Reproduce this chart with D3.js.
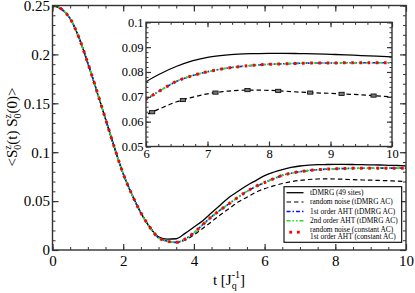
<!DOCTYPE html>
<html>
<head>
<meta charset="utf-8">
<script src="https://cdn.jsdelivr.net/npm/d3@7"></script>
<style>
  body { margin: 0; background: #fff; }
  svg, svg text { font-family: "Liberation Serif", "Times New Roman", serif; }
</style>
</head>
<body>
<script>
// time grid (units of 1/J_q)
const tVals = [0, 0.25, 0.5, 0.75, 1, 1.25, 1.5, 1.75, 2, 2.25, 2.5, 2.75,
  3, 3.25, 3.5, 3.75, 4, 4.25, 4.5, 4.75, 5, 5.25, 5.5, 5.75,
  6, 6.25, 6.5, 6.75, 7, 7.25, 7.5, 7.75, 8, 8.25, 8.5, 8.75,
  9, 9.25, 9.5, 9.75, 10];

// short-time part, all curves coincide
const shortTime = [0.25, 0.2465, 0.2365, 0.217, 0.191, 0.163, 0.134, 0.105, 0.078, 0.0565, 0.038, 0.0235];

// tDMRG (49 sites)
const tdmrgVals = shortTime.concat([0.0135, 0.0112, 0.0115, 0.017, 0.0235, 0.030, 0.038, 0.046, 0.054, 0.060, 0.066, 0.071,
  0.076, 0.0795, 0.0823, 0.0845, 0.0859, 0.0867, 0.0872, 0.0874, 0.0875, 0.0875, 0.0874, 0.0873,
  0.0871, 0.0869, 0.0866, 0.0864, 0.0861]);

// random noise (tDMRG AC)
const noiseVals = shortTime.concat([0.0125, 0.009, 0.0078, 0.010, 0.0155, 0.022, 0.029, 0.036, 0.0425, 0.049, 0.054, 0.059,
  0.0627, 0.0655, 0.068, 0.0698, 0.0712, 0.0721, 0.0726, 0.0727, 0.0726, 0.0723, 0.0719, 0.0716,
  0.0714, 0.0711, 0.0708, 0.0704, 0.070]);

// 1st / 2nd order AHT and constant-AC curves (on top of each other)
const ahtVals = shortTime.concat([0.0125, 0.009, 0.0078, 0.0112, 0.0175, 0.026, 0.034, 0.041, 0.0475, 0.054, 0.060, 0.065,
  0.069, 0.0728, 0.0763, 0.0785, 0.0801, 0.0813, 0.0821, 0.0827, 0.0831, 0.0833, 0.0835, 0.0836,
  0.0836, 0.0837, 0.0837, 0.0837, 0.0837]);

// error bar markers on random noise curve (inset)
const errT = [6.1, 6.6, 7.13, 7.65, 8.15, 8.67, 9.18, 9.7];
const errV = [0.0638, 0.0687, 0.0717, 0.0727, 0.0724, 0.0717, 0.0712, 0.0705];

const mainXTicks = [0, 2, 4, 6, 8, 10];
const mainYTicks = [0, 0.05, 0.1, 0.15, 0.2, 0.25];
const insetXTicks = [6, 7, 8, 9, 10];
const insetYTicks = [0.05, 0.06, 0.07, 0.08, 0.09, 0.1];

const legendLabels = ["tDMRG (49 sites)", "random noise (tDMRG AC)", "1st order AHT (tDMRG AC)",
  "2nd order AHT (tDMRG AC)", ["random noise  (constant AC)", "1st order AHT (constant AC)"]];

const FONT = "'Liberation Serif', 'Times New Roman', serif";
const width = 415, height = 293;
const svg = d3.select("body").append("svg").attr("width", width).attr("height", height);

const styles = [
  { color: "#000", width: 1.3, dash: null },
  { color: "#000", width: 1.2, dash: "4.5,3" },
  { color: "#1010ff", width: 1.6, dash: "4,2,1.5,2" },
  { color: "#22e022", width: 1.6, dash: "4,2,1.5,2,1.5,2" },
  { color: "#ff0000", width: 3, dash: "2.6,5.6" }
];
const seriesVals = [tdmrgVals, noiseVals, ahtVals, ahtVals, ahtVals];

function drawPanel(g, x, y, opt) {
  const [x0, x1] = x.range();
  const [y0, y1] = y.range();
  const clipId = "clip" + opt.id;
  svg.append("clipPath").attr("id", clipId).append("rect")
    .attr("x", x0).attr("y", y1).attr("width", x1 - x0).attr("height", y0 - y1);

  g.append("rect").attr("x", x0).attr("y", y1).attr("width", x1 - x0).attr("height", y0 - y1)
    .attr("fill", "#fff");

  const line = d3.line().x((d, i) => x(tVals[i])).y(d => y(d)).curve(d3.curveMonotoneX);
  const curves = g.append("g").attr("clip-path", `url(#${clipId})`);
  seriesVals.forEach((vals, k) => {
    curves.append("path").datum(vals)
      .attr("d", line)
      .attr("fill", "none")
      .attr("stroke", styles[k].color)
      .attr("stroke-width", styles[k].width)
      .attr("stroke-dasharray", styles[k].dash);
  });
  if (opt.errorBars) {
    errT.forEach((t, i) => {
      curves.append("rect")
        .attr("x", x(t) - 2.6).attr("y", y(errV[i]) - 1.6)
        .attr("width", 5.2).attr("height", 3.2)
        .attr("fill", "#777").attr("stroke", "#000").attr("stroke-width", 0.8);
    });
  }

  // inward ticks on all four sides
  const minorX = d3.range(x.domain()[0], x.domain()[1] + 1e-9, opt.minorX);
  const minorY = d3.range(y.domain()[0], y.domain()[1] + 1e-9, opt.minorY);
  const ax = [
    [d3.axisBottom(x), y0, true, true],
    [d3.axisTop(x), y1, true, false],
    [d3.axisLeft(y), x0, false, true],
    [d3.axisRight(y), x1, false, false]
  ];
  ax.forEach(([axis, pos, horiz, labeled]) => {
    const tr = horiz ? `translate(0,${pos})` : `translate(${pos},0)`;
    g.append("g").attr("transform", tr)
      .call(axis.tickValues(horiz ? minorX : minorY).tickSize(-opt.minorLen).tickFormat(""))
      .call(s => s.select(".domain").remove())
      .selectAll("line").attr("stroke", "#333").attr("stroke-width", 1);
    const major = horiz ? opt.xTicks : opt.yTicks;
    const ga = g.append("g").attr("transform", tr)
      .call(axis.tickValues(major).tickSize(-opt.majorLen)
        .tickPadding(horiz ? opt.xPad : opt.yPad)
        .tickFormat(labeled ? (horiz ? opt.xFmt : opt.yFmt) : ""));
    ga.attr("font-family", null);
    ga.select(".domain").remove();
    ga.selectAll("line").attr("stroke", "#333").attr("stroke-width", 1.2);
    ga.selectAll("text").style("font-family", FONT)
      .attr("font-size", opt.fontSize).attr("fill", "#000");
  });

  g.append("rect").attr("x", x0).attr("y", y1).attr("width", x1 - x0).attr("height", y0 - y1)
    .attr("fill", "none").attr("stroke", "#333").attr("stroke-width", 1.4);
}

// main panel
const xMain = d3.scaleLinear().domain([0, 10]).range([52.5, 406]);
const yMain = d3.scaleLinear().domain([0, 0.25]).range([250, 5.5]);
drawPanel(svg.append("g"), xMain, yMain, {
  id: "main", minorX: 0.5, minorY: 0.01, minorLen: 3, majorLen: 6,
  xTicks: mainXTicks, yTicks: mainYTicks, xPad: 5, yPad: 2.5, fontSize: 15,
  xFmt: d3.format("d"), yFmt: d => d === 0 ? "0" : d3.format("")(+d.toFixed(2))
});

// legend (inside main panel)
const leg = svg.append("g").style("font-family", FONT);
leg.append("rect").attr("x", 284).attr("y", 186.7).attr("width", 117.7).attr("height", 55.6)
  .attr("fill", "#fff").attr("stroke", "#000").attr("stroke-width", 1.1);
const legY = [192.7, 202, 211.5, 220.7, 232.2];
const legFont = 7.4;
legendLabels.forEach((lab, k) => {
  if (k < 4) {
    leg.append("line").attr("x1", 286.5).attr("x2", 303.5)
      .attr("y1", legY[k]).attr("y2", legY[k])
      .attr("stroke", styles[k].color).attr("stroke-width", styles[k].width)
      .attr("stroke-dasharray", styles[k].dash);
    leg.append("text").attr("x", 310).attr("y", legY[k]).attr("dy", "0.33em")
      .attr("font-size", legFont).text(lab);
  } else {
    [290.7, 298.3].forEach(cx => leg.append("rect").attr("x", cx - 1.4).attr("y", legY[k] - 1.4)
      .attr("width", 2.8).attr("height", 2.8).attr("fill", styles[k].color));
    lab.forEach((l, j) => leg.append("text").attr("x", 310).attr("y", 229.2 + j * 7.6)
      .attr("dy", "0.33em").attr("font-size", legFont).text(l));
  }
});

// inset panel
const xIn = d3.scaleLinear().domain([6, 10]).range([146, 392]);
const yIn = d3.scaleLinear().domain([0.05, 0.1]).range([146.5, 22.3]);
drawPanel(svg.append("g"), xIn, yIn, {
  id: "inset", minorX: 0.2, minorY: 0.002, minorLen: 2.5, majorLen: 5, errorBars: true,
  xTicks: insetXTicks, yTicks: insetYTicks, xPad: 3, yPad: 2.5, fontSize: 12.5,
  xFmt: d3.format("d"), yFmt: d => d3.format("")(+d.toFixed(2))
});

// axis titles
const yl = svg.append("text").attr("transform", "translate(17,127) rotate(-90)")
  .attr("text-anchor", "middle").attr("font-size", 15).style("font-family", FONT);
yl.append("tspan").text("<S");
yl.append("tspan").attr("font-size", 10).attr("dy", -6).text("z");
yl.append("tspan").attr("font-size", 10).attr("dx", -4.4).attr("dy", 10).text("0");
yl.append("tspan").attr("dy", -4).text("(t) S");
yl.append("tspan").attr("font-size", 10).attr("dy", -6).text("z");
yl.append("tspan").attr("font-size", 10).attr("dx", -4.4).attr("dy", 10).text("0");
yl.append("tspan").attr("dy", -4).text("(0)>");

const xl = svg.append("text").attr("x", 229).attr("y", 285)
  .attr("text-anchor", "middle").attr("font-size", 15).style("font-family", FONT);
xl.append("tspan").text("t [J");
xl.append("tspan").attr("font-size", 10).attr("dy", 4).text("q");
xl.append("tspan").attr("font-size", 10).attr("dx", -5).attr("dy", -11).text("-1");
xl.append("tspan").attr("dy", 7).text("]");
</script>
</body>
</html>
